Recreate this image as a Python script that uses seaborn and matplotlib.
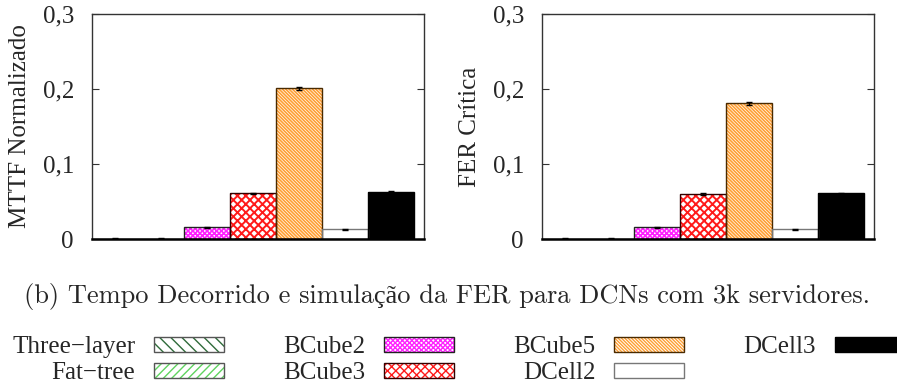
import matplotlib
matplotlib.use("Agg")
import matplotlib.pyplot as plt
from matplotlib.patches import Patch
from matplotlib.legend_handler import HandlerTuple
import numpy as np
import pandas as pd
import seaborn as sns

# Network topologies (bar order and legend labels)
redes = ["Three\u2212layer", "Fat\u2212tree", "BCube2", "BCube3", "BCube5", "DCell2", "DCell3"]

# Normalised MTTF and critical FER with half-widths of the confidence intervals
mttf = [0.0004, 0.0004, 0.0156, 0.061, 0.201, 0.013, 0.0627]
mttf_err = [0.0003, 0.0003, 0.0008, 0.0010, 0.0020, 0.0006, 0.0008]
fer = [0.0004, 0.0004, 0.0156, 0.060, 0.181, 0.013, 0.061]
fer_err = [0.0003, 0.0003, 0.0008, 0.0010, 0.0020, 0.0006, 0.0008]

y_ticks = [0, 0.1, 0.2, 0.3]
y_ticklabels = ["0", "0,1", "0,2", "0,3"]
ylabels = ["MTTF Normalizado", "FER Cr\u00edtica"]
caption = "(b) Tempo Decorrido e simula\u00e7\u00e3o da FER para DCNs com 3k servidores."

# Fill, hatch colour, hatch pattern, hatch width and outline colour of each topology
fills = ["white", "white", "white", "white", "white", "white", "black"]
hatch_colors = ["#2f6b3a", "#5fd35f", "#ff22ff", "#ff1a1a", "#ff9f33", "white", "black"]
hatches = ["\\\\\\", "////", "xxxxxxx", "xxxx", "\\" * 10, "", ""]
hatch_widths = [0.8, 0.8, 1.2, 1.4, 1.2, 1.0, 1.0]
outlines = ["#555555", "#555555", "#222222", "#330000", "#4a2a00", "#777777", "black"]

sns.set_theme(style="white")
plt.rcParams["font.family"] = ["Liberation Serif", "DejaVu Serif"]
plt.rcParams["hatch.linewidth"] = 1.0

fig = plt.figure(figsize=(8.97, 3.88), dpi=100)
W, H = 897.0, 388.0
axes_px = [(92, 14, 424, 239), (542, 14, 874, 239)]


def style_hatch(patch, color, pattern, width):
    patch.set_edgecolor(color)
    patch.set_hatch(pattern)
    patch.set_linewidth(0)
    if hasattr(patch, "set_hatch_linewidth"):
        patch.set_hatch_linewidth(width)


def draw_panel(ax, values, errors, ylabel):
    df = pd.DataFrame({"rede": redes, "valor": values})
    sns.barplot(data=df, x="rede", y="valor", hue="rede", palette=fills,
                width=1.0, errorbar=None, legend=False, linewidth=0, ax=ax)
    for patch, hc, h, hw in zip(ax.patches, hatch_colors, hatches, hatch_widths):
        style_hatch(patch, hc, h, hw)
    n_filled = len(ax.patches)
    sns.barplot(data=df, x="rede", y="valor", hue="rede", palette=outlines,
                width=1.0, errorbar=None, legend=False, fill=False,
                linewidth=1.0, ax=ax)
    for patch in ax.patches[n_filled:]:
        patch.set_facecolor("none")
    ax.errorbar(np.arange(len(redes)), values, yerr=errors, fmt="none",
                ecolor="black", elinewidth=1.0, capsize=2, capthick=1.0, zorder=5)
    ax.set_xlim(-0.5, -0.5 + 332 / 46)
    ax.set_ylim(0, 0.3)
    ax.set_yticks(y_ticks)
    ax.set_yticklabels(y_ticklabels, fontsize=18)
    ax.set_xticks([])
    ax.set_xlabel("")
    ax.set_ylabel(ylabel, fontsize=18, labelpad=8)
    ax.tick_params(axis="y", direction="in", left=True, right=True, length=5,
                   width=0.8, color="#333333", pad=13)
    for s in ax.spines.values():
        s.set_visible(True)
        s.set_color("#333333")
        s.set_linewidth(1.0)
    ax.spines["bottom"].set_linewidth(1.8)
    ax.spines["bottom"].set_color("black")


for (x0, y0, x1, y1), vals, errs, lab in zip(axes_px, [mttf, fer], [mttf_err, fer_err], ylabels):
    ax = fig.add_axes([x0 / W, 1 - y1 / H, (x1 - x0) / W, (y1 - y0) / H])
    draw_panel(ax, vals, errs, lab)

fig.text(446.5 / W, 1 - 297 / H, caption, ha="center", va="center", fontsize=19,
         family=["cmr10", "Liberation Serif"])

# Legend: label to the left of its swatch, filled column by column
handles = []
for fc, hc, h, hw, oc in zip(fills, hatch_colors, hatches, hatch_widths, outlines):
    base = Patch(facecolor=fc)
    style_hatch(base, hc, h, hw)
    edge = Patch(facecolor="none", edgecolor=oc, linewidth=1.0)
    handles.append((base, edge))

fig.legend(handles, redes, ncol=4, markerfirst=False, frameon=False,
           loc="upper left", bbox_to_anchor=(12 / W, 1 - 336 / H),
           fontsize=18, handlelength=2.8, handleheight=0.56,
           handletextpad=0.76, columnspacing=2.36, labelspacing=0.17,
           borderpad=0, borderaxespad=0,
           handler_map={tuple: HandlerTuple(ndivide=1, pad=0)})

fig.savefig("out.png", dpi=100)
